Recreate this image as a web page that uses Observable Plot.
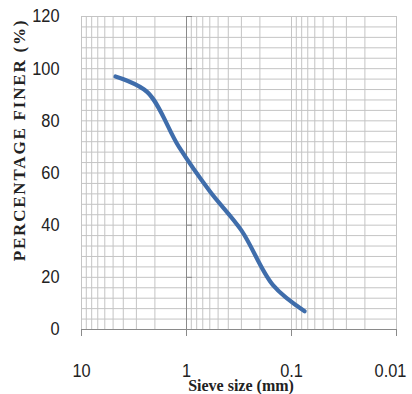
<!DOCTYPE html>
<html>
<head>
<meta charset="utf-8">
<script src="https://cdn.jsdelivr.net/npm/d3@7"></script>
<script src="https://cdn.jsdelivr.net/npm/@observablehq/plot@0.6"></script>
<style>
  html, body { margin: 0; padding: 0; background: #fff; }
  #chart { width: 412px; height: 394px; }
</style>
</head>
<body>
<div id="chart"></div>
<script>
// Data
const sieveSizes = [4.75, 2.36, 1.18, 0.6, 0.3, 0.15, 0.075];   // mm
const percentFiner = [97, 91, 70, 53, 38, 17, 7];                // %
const yTicks = [0, 20, 40, 60, 80, 100, 120];
const xTicks = [10, 1, 0.1, 0.01];
const yGrid = d3.range(0, 121, 4);
const xGrid = [0.01, 0.1, 1].flatMap(d => d3.range(1, 10).map(k => +(k * d).toPrecision(3))).concat([10]);

const data = sieveSizes.map((s, i) => ({size: s, finer: percentFiner[i]}));

const numFont = "'Liberation Sans', Arial, sans-serif";
const serif = "'Liberation Serif', 'Times New Roman', serif";

const chart = Plot.plot({
  width: 412,
  height: 394,
  marginLeft: 81,
  marginRight: 16,
  marginTop: 16,
  marginBottom: 65,
  style: {background: "#fff", overflow: "visible"},
  x: {type: "log", domain: [10, 0.01]},
  y: {domain: [0, 120]},
  marks: [
    Plot.ruleY(yGrid, {stroke: "#c4c4c4", strokeWidth: 1}),
    Plot.ruleX(xGrid, {stroke: "#c4c4c4", strokeWidth: 1}),
    // vertical axis line at x = 1
    Plot.ruleX([1], {stroke: "#8a8a8a", strokeWidth: 1}),
    Plot.ruleY(yTicks, {x1: 1, x2: 1, insetRight: -6, stroke: "#8a8a8a", strokeWidth: 1}),
    // horizontal axis line at y = 0
    Plot.ruleY([0], {stroke: "#8a8a8a", strokeWidth: 1}),
    Plot.ruleX(xTicks, {y1: 0, y2: 0, stroke: "#8a8a8a", insetBottom: -7}),
    Plot.axisY({ticks: yTicks, tickSize: 0, tickPadding: 22, fontSize: 18.6, fontFamily: numFont, fill: "#222", label: null}),
    Plot.axisX({ticks: xTicks.slice(0, 3), tickSize: 0, tickPadding: 34, fontSize: 18.6, fontFamily: numFont, fill: "#222", label: null, tickFormat: d => String(d)}),
    Plot.axisX({ticks: xTicks.slice(3), tickSize: 0, tickPadding: 34, dx: -6, fontSize: 18.6, fontFamily: numFont, fill: "#222", label: null, tickFormat: d => String(d)}),
    Plot.line(data, {x: "size", y: "finer", curve: "catmull-rom", stroke: "#3f6dab", strokeWidth: 4.2, strokeLinecap: "round"}),
    Plot.text(["Sieve size (mm)"], {frameAnchor: "bottom", dx: 2, dy: 61, lineAnchor: "bottom", fontSize: 16, fontWeight: "bold", fontFamily: serif, fill: "#222"}),
    Plot.text(["PERCENTAGE FINER (%)"], {frameAnchor: "left", textAnchor: "middle", dx: -62, dy: -33, rotate: -90, fontSize: 17, fontWeight: "bold", fontFamily: serif, fill: "#222", className: "ytitle"})
  ]
});
// narrow the numeric tick labels (reference uses a condensed face)
d3.select(chart).selectAll("g[aria-label='y-axis tick label'] text, g[aria-label='x-axis tick label'] text").each(function () {
  const t = this.getAttribute("transform") || "";
  this.setAttribute("transform", t + " scale(0.88,1)");
});
d3.select(chart).selectAll(".ytitle text").style("letter-spacing", "1.8px");
document.getElementById("chart").appendChild(chart);
</script>
</body>
</html>
